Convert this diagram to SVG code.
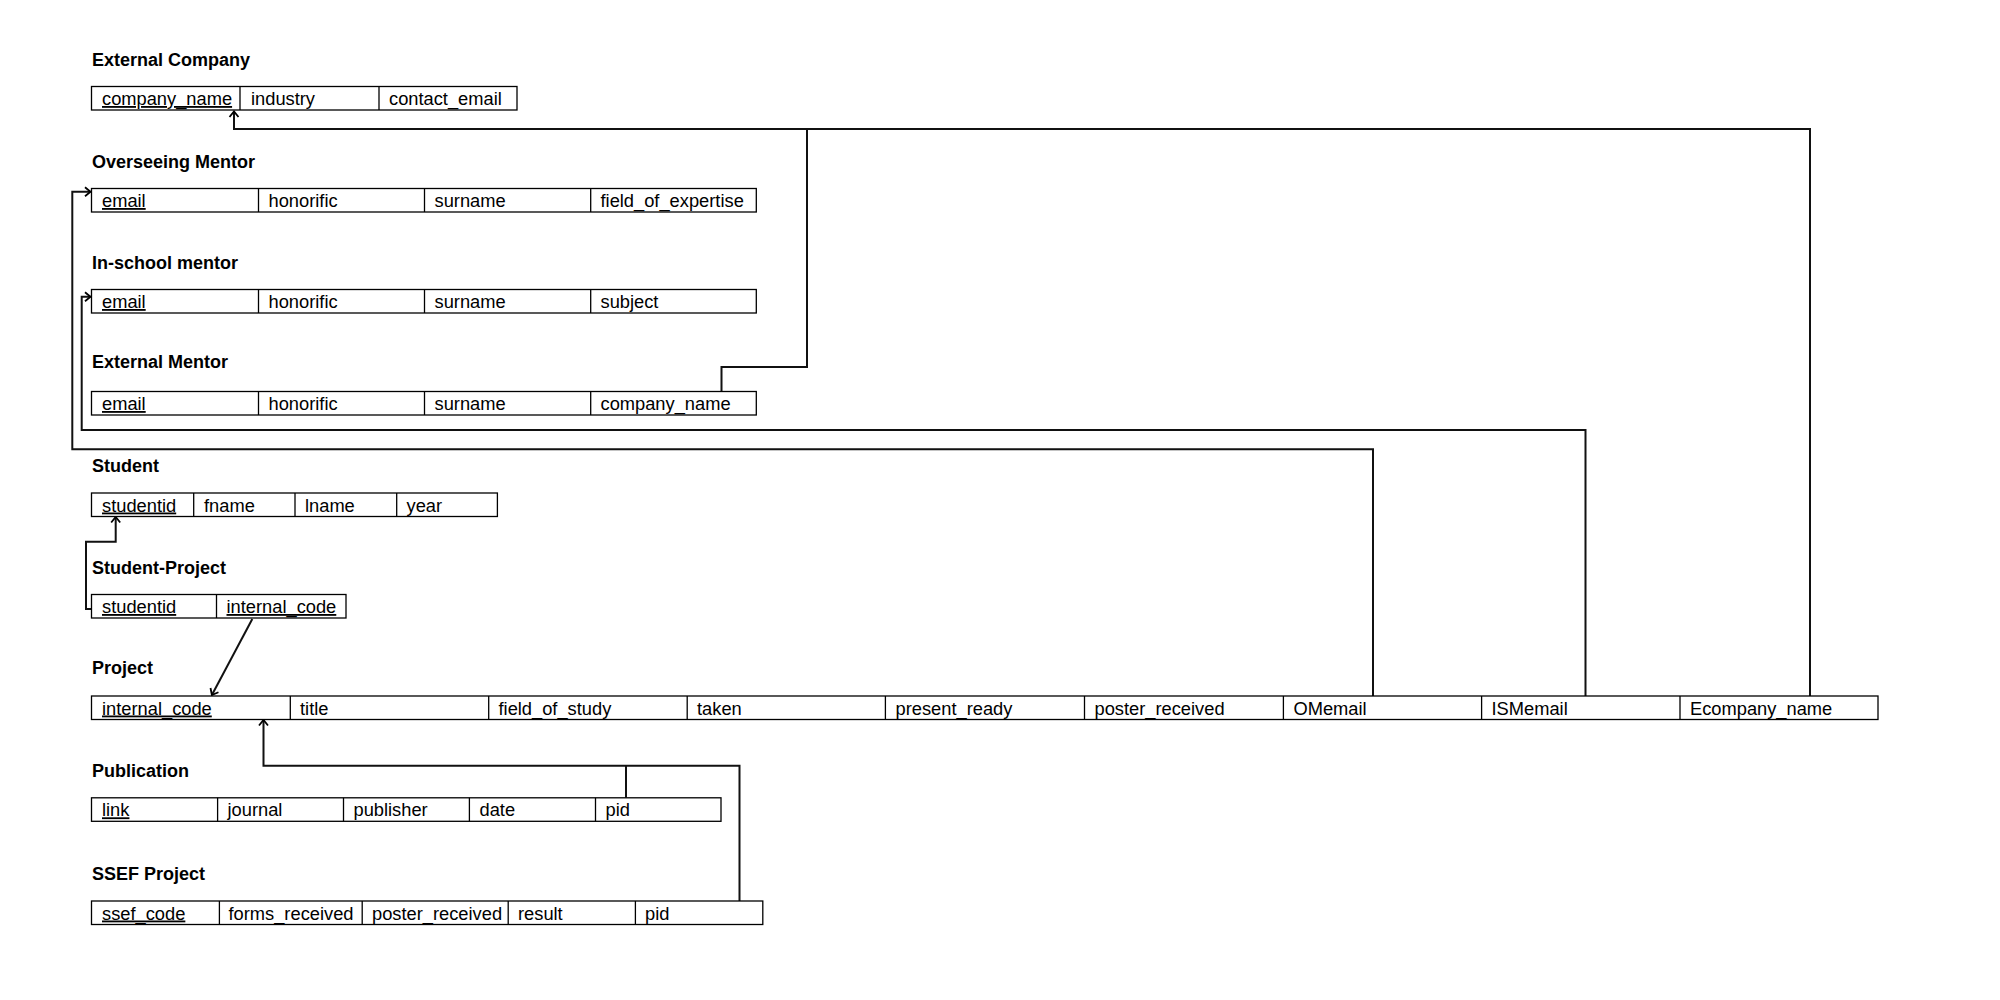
<svg xmlns="http://www.w3.org/2000/svg" width="2000" height="1000" viewBox="0 0 2000 1000">
  <style>
    .bg { fill: #ffffff; }
    .title { font-family: "Liberation Sans", Arial, sans-serif; font-size: 18px; font-weight: bold; fill: #000; }
    .cell { font-family: "Liberation Sans", Arial, sans-serif; font-size: 18.3px; fill: #000; }
    .key { text-decoration: underline; }
    .box { fill: #fff; stroke: #000; stroke-width: 1.3; }
    .div { stroke: #000; stroke-width: 1.3; }
    .link { fill: none; stroke: #111; stroke-width: 2; }
  </style>
  <defs>
    <marker id="arrow" markerUnits="userSpaceOnUse" markerWidth="14" markerHeight="14" refX="7" refY="7" orient="auto">
      <path d="M1.5,2.5 L7,7 L1.5,11.5" fill="none" stroke="#000" stroke-width="1.8"/>
    </marker>
  </defs>
  <rect class="bg" x="0" y="0" width="2000" height="1000"/>

  <!-- foreign-key connectors -->
  <g id="connectors">
    <path class="link" d="M1810,696 V129 H234 V111.5" marker-end="url(#arrow)"/>
    <path class="link" d="M721.5,391.5 V367 H807 V129"/>
    <path class="link" d="M1373,696 V449.3 H72.3 V191.7 H90.5" marker-end="url(#arrow)"/>
    <path class="link" d="M1585.5,696 V430 H81.7 V296.7 H90.5" marker-end="url(#arrow)"/>
    <path class="link" d="M91.5,609 H86 V541.7 H115.7 V517" marker-end="url(#arrow)"/>
    <path class="link" d="M252.3,619 L211.9,695" marker-end="url(#arrow)"/>
    <path class="link" d="M739.5,901 V765.7 H263.5 V720" marker-end="url(#arrow)"/>
    <path class="link" d="M626,797.8 V765.7"/>
  </g>

  <!-- External Company -->
  <g id="external-company">
    <text class="title" x="92" y="66">External Company</text>
    <rect class="box" x="91.5" y="86.5" width="425.5" height="23.5"/>
    <line class="div" x1="240" y1="86.5" x2="240" y2="110"/>
    <line class="div" x1="379" y1="86.5" x2="379" y2="110"/>
    <text class="cell key" x="102" y="105">company_name</text>
    <text class="cell" x="251" y="105">industry</text>
    <text class="cell" x="389" y="105">contact_email</text>
  </g>

  <!-- Overseeing Mentor -->
  <g id="overseeing-mentor">
    <text class="title" x="92" y="168">Overseeing Mentor</text>
    <rect class="box" x="91.5" y="188.5" width="664.8" height="23.5"/>
    <line class="div" x1="258.5" y1="188.5" x2="258.5" y2="212"/>
    <line class="div" x1="424.5" y1="188.5" x2="424.5" y2="212"/>
    <line class="div" x1="590.7" y1="188.5" x2="590.7" y2="212"/>
    <text class="cell key" x="102" y="207">email</text>
    <text class="cell" x="268.5" y="207">honorific</text>
    <text class="cell" x="434.5" y="207">surname</text>
    <text class="cell" x="600.5" y="207">field_of_expertise</text>
  </g>

  <!-- In-school mentor -->
  <g id="in-school-mentor">
    <text class="title" x="92" y="268.5">In-school mentor</text>
    <rect class="box" x="91.5" y="289.5" width="664.8" height="23.5"/>
    <line class="div" x1="258.5" y1="289.5" x2="258.5" y2="313"/>
    <line class="div" x1="424.5" y1="289.5" x2="424.5" y2="313"/>
    <line class="div" x1="590.7" y1="289.5" x2="590.7" y2="313"/>
    <text class="cell key" x="102" y="308">email</text>
    <text class="cell" x="268.5" y="308">honorific</text>
    <text class="cell" x="434.5" y="308">surname</text>
    <text class="cell" x="600.5" y="308">subject</text>
  </g>

  <!-- External Mentor -->
  <g id="external-mentor">
    <text class="title" x="92" y="367.5">External Mentor</text>
    <rect class="box" x="91.5" y="391.5" width="664.8" height="23.5"/>
    <line class="div" x1="258.5" y1="391.5" x2="258.5" y2="415"/>
    <line class="div" x1="424.5" y1="391.5" x2="424.5" y2="415"/>
    <line class="div" x1="590.7" y1="391.5" x2="590.7" y2="415"/>
    <text class="cell key" x="102" y="410">email</text>
    <text class="cell" x="268.5" y="410">honorific</text>
    <text class="cell" x="434.5" y="410">surname</text>
    <text class="cell" x="600.5" y="410">company_name</text>
  </g>

  <!-- Student -->
  <g id="student">
    <text class="title" x="92" y="471.5">Student</text>
    <rect class="box" x="91.5" y="493" width="405.9" height="23.5"/>
    <line class="div" x1="193.7" y1="493" x2="193.7" y2="516.5"/>
    <line class="div" x1="295" y1="493" x2="295" y2="516.5"/>
    <line class="div" x1="396.7" y1="493" x2="396.7" y2="516.5"/>
    <text class="cell key" x="102" y="511.5">studentid</text>
    <text class="cell" x="204" y="511.5">fname</text>
    <text class="cell" x="305" y="511.5">lname</text>
    <text class="cell" x="406.5" y="511.5">year</text>
  </g>

  <!-- Student-Project -->
  <g id="student-project">
    <text class="title" x="92" y="573.5">Student-Project</text>
    <rect class="box" x="91.5" y="594.5" width="254.5" height="23.5"/>
    <line class="div" x1="216.5" y1="594.5" x2="216.5" y2="618"/>
    <text class="cell key" x="102" y="613">studentid</text>
    <text class="cell key" x="226.5" y="613">internal_code</text>
  </g>

  <!-- Project -->
  <g id="project">
    <text class="title" x="92" y="673.5">Project</text>
    <rect class="box" x="91.5" y="696" width="1786.5" height="23.5"/>
    <line class="div" x1="290.3" y1="696" x2="290.3" y2="719.5"/>
    <line class="div" x1="488.7" y1="696" x2="488.7" y2="719.5"/>
    <line class="div" x1="687.2" y1="696" x2="687.2" y2="719.5"/>
    <line class="div" x1="885.4" y1="696" x2="885.4" y2="719.5"/>
    <line class="div" x1="1084.5" y1="696" x2="1084.5" y2="719.5"/>
    <line class="div" x1="1283.4" y1="696" x2="1283.4" y2="719.5"/>
    <line class="div" x1="1481.6" y1="696" x2="1481.6" y2="719.5"/>
    <line class="div" x1="1680" y1="696" x2="1680" y2="719.5"/>
    <text class="cell key" x="102" y="714.5">internal_code</text>
    <text class="cell" x="300" y="714.5">title</text>
    <text class="cell" x="498.5" y="714.5">field_of_study</text>
    <text class="cell" x="697" y="714.5">taken</text>
    <text class="cell" x="895.5" y="714.5">present_ready</text>
    <text class="cell" x="1094.5" y="714.5">poster_received</text>
    <text class="cell" x="1293.5" y="714.5">OMemail</text>
    <text class="cell" x="1491.5" y="714.5">ISMemail</text>
    <text class="cell" x="1690" y="714.5">Ecompany_name</text>
  </g>

  <!-- Publication -->
  <g id="publication">
    <text class="title" x="92" y="776.5">Publication</text>
    <rect class="box" x="91.5" y="797.8" width="629.5" height="23.5"/>
    <line class="div" x1="217.6" y1="797.8" x2="217.6" y2="821.3"/>
    <line class="div" x1="343.5" y1="797.8" x2="343.5" y2="821.3"/>
    <line class="div" x1="469.4" y1="797.8" x2="469.4" y2="821.3"/>
    <line class="div" x1="595.5" y1="797.8" x2="595.5" y2="821.3"/>
    <text class="cell key" x="102" y="816.3">link</text>
    <text class="cell" x="227.5" y="816.3">journal</text>
    <text class="cell" x="353.5" y="816.3">publisher</text>
    <text class="cell" x="479.5" y="816.3">date</text>
    <text class="cell" x="605.5" y="816.3">pid</text>
  </g>

  <!-- SSEF Project -->
  <g id="ssef-project">
    <text class="title" x="92" y="879.5">SSEF Project</text>
    <rect class="box" x="91.5" y="901" width="671.3" height="23.5"/>
    <line class="div" x1="219.4" y1="901" x2="219.4" y2="924.5"/>
    <line class="div" x1="362.2" y1="901" x2="362.2" y2="924.5"/>
    <line class="div" x1="508.2" y1="901" x2="508.2" y2="924.5"/>
    <line class="div" x1="635.4" y1="901" x2="635.4" y2="924.5"/>
    <text class="cell key" x="102" y="919.5">ssef_code</text>
    <text class="cell" x="228.5" y="919.5">forms_received</text>
    <text class="cell" x="372" y="919.5">poster_received</text>
    <text class="cell" x="518" y="919.5">result</text>
    <text class="cell" x="645" y="919.5">pid</text>
  </g>
</svg>
